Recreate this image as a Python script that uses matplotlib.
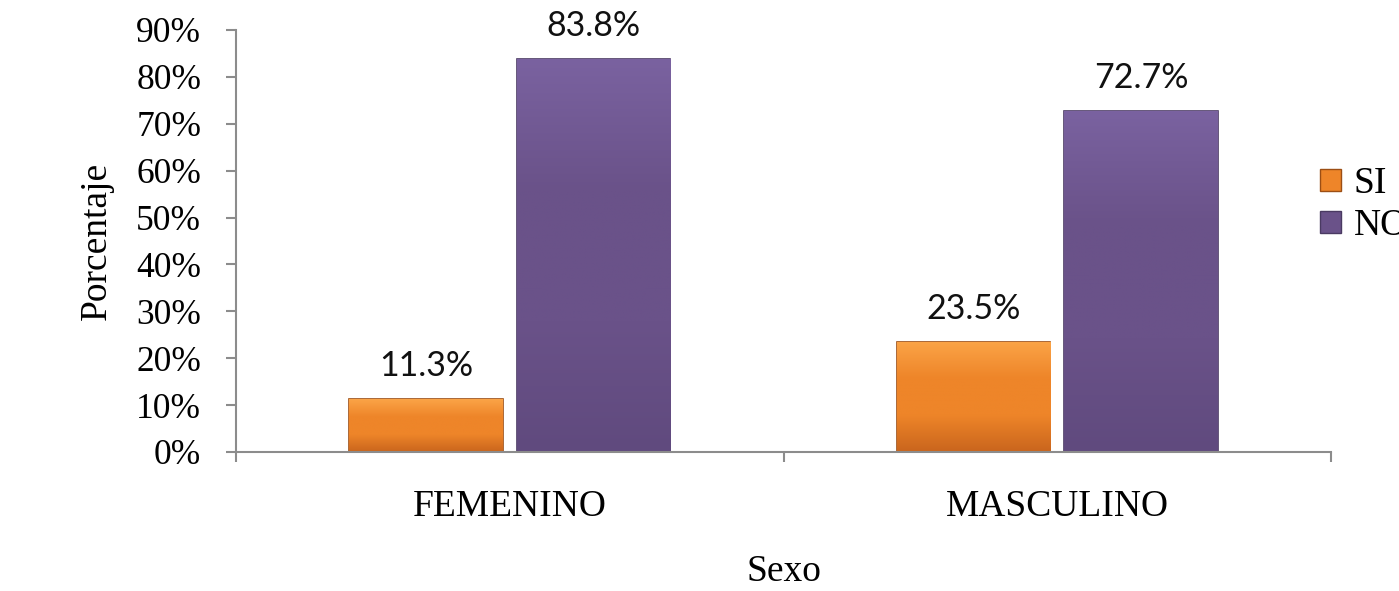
import matplotlib

matplotlib.use("Agg")
import matplotlib.pyplot as plt
import numpy as np
from matplotlib.colors import LinearSegmentedColormap
from matplotlib.patches import Patch

# data
categories = ["FEMENINO", "MASCULINO"]
series_names = ["SI", "NO"]
si_values = [11.3, 23.5]
no_values = [83.8, 72.7]
y_ticks = [0, 10, 20, 30, 40, 50, 60, 70, 80, 90]

SERIF = ["Liberation Serif", "DejaVu Serif"]
LABEL_FONT = ["Lato", "DejaVu Sans"]
SPINE = "#8c8c8c"

colors = {
    "SI": ("#fba447", "#ee8529", "#c9651d", "#9c4e14"),
    "NO": ("#7a62a0", "#6a5289", "#604a7e", "#4a3a62"),
}


def gradient_fill(ax, bar, top, mid, bottom):
    """Paint a vertical gradient inside a bar patch."""
    x0, y0 = bar.get_x(), bar.get_y()
    w, h = bar.get_width(), bar.get_height()
    cmap = LinearSegmentedColormap.from_list("g", [bottom, mid, mid, top])
    grad = np.linspace(0, 1, 256).reshape(-1, 1)
    im = ax.imshow(grad, cmap=cmap, origin="lower", aspect="auto",
                   extent=(x0, x0 + w, y0, y0 + h), zorder=bar.get_zorder() + 0.1)
    im.set_clip_path(bar)


fig = plt.figure(figsize=(13.99, 5.91), dpi=100)
ax = fig.add_axes([236 / 1399, 139 / 591, 1095 / 1399, 422 / 591])

x = np.arange(len(categories))
width = 0.28
offset = 0.153

for name, values, shift in [("SI", si_values, -offset), ("NO", no_values, offset)]:
    top, mid, bottom, edge = colors[name]
    bars = ax.bar(x + shift, values, width, color=mid, edgecolor=edge,
                  linewidth=1.2, zorder=2)
    for b, v in zip(bars, values):
        gradient_fill(ax, b, top, mid, bottom)
        ax.annotate(f"{v:.1f}%", (b.get_x() + b.get_width() / 2, v),
                    xytext=(0, 12), textcoords="offset points",
                    ha="center", va="bottom", fontsize=24.5,
                    family=LABEL_FONT, color="#111111")

ax.set_xlim(-0.5, 1.5)
ax.set_ylim(0, 90)
ax.set_yticks(y_ticks)
ax.set_yticklabels([f"{t}%" for t in y_ticks])
ax.set_xticks(x)
ax.set_xticklabels(categories)
ax.set_xticks([-0.5, 0.5, 1.5], minor=True)

for side in ["top", "right"]:
    ax.spines[side].set_visible(False)
for side in ["left", "bottom"]:
    ax.spines[side].set_color(SPINE)
    ax.spines[side].set_linewidth(1.5)

ax.tick_params(axis="y", direction="out", length=7, width=1.5, color=SPINE,
               pad=18, labelsize=25.5)
ax.tick_params(axis="x", which="major", length=0, pad=27, labelsize=27)
ax.tick_params(axis="x", which="minor", direction="out", length=7, width=1.5,
               color=SPINE)
for lab in ax.get_xticklabels() + ax.get_yticklabels():
    lab.set_family(SERIF)

ax.set_xlabel("Sexo", fontsize=27, family=SERIF, labelpad=22)
ax.set_ylabel("Porcentaje", fontsize=27, family=SERIF, labelpad=16)

handles = [Patch(facecolor=colors[n][1], edgecolor=colors[n][3]) for n in series_names]
fig.legend(handles, series_names, loc="center left",
           bbox_to_anchor=(1320 / 1399, 1 - 205 / 591), frameon=False,
           prop={"family": SERIF, "size": 27}, handlelength=0.55,
           handleheight=0.55, handletextpad=0.35, labelspacing=0.2,
           borderpad=0, borderaxespad=0)

fig.savefig("out.png", dpi=100)
